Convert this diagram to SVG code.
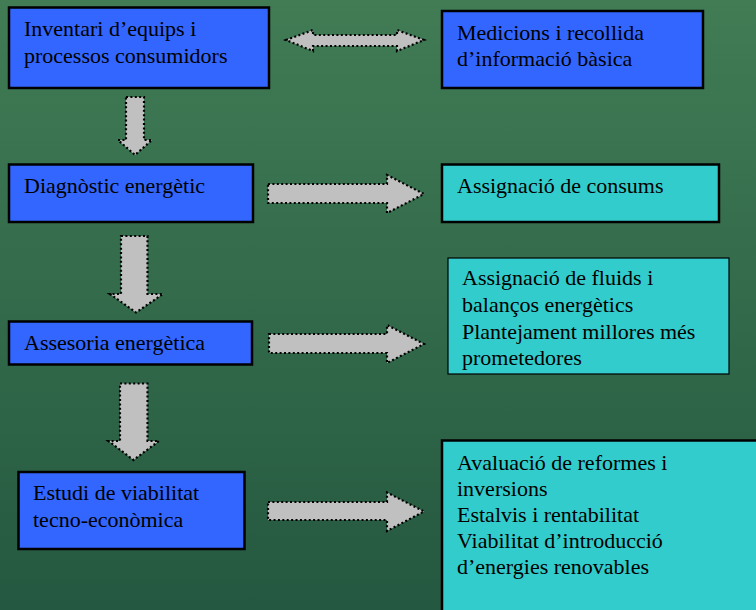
<svg xmlns="http://www.w3.org/2000/svg" width="756" height="610" viewBox="0 0 756 610">
  <defs>
    <linearGradient id="bg" x1="0" y1="0" x2="0" y2="1">
      <stop offset="0" stop-color="#417c55"/>
      <stop offset="1" stop-color="#245840"/>
    </linearGradient>
  </defs>
  <style>
    .blue { fill: #3366ff; stroke: #000; stroke-width: 2.5; }
    .cyan { fill: #33cccc; stroke: #000; stroke-width: 2.5; }
    .thin { stroke-width: 1.2; }
    .lbl { font-family: "Liberation Serif", "Times New Roman", serif; font-size: 22px; fill: #000; }
    .arr { fill: #c0c0c0; stroke: #000; stroke-width: 2.2; stroke-dasharray: 2 2.4; stroke-linejoin: miter; }
  </style>
  <rect x="0" y="0" width="756" height="610" fill="url(#bg)"/>

  <g id="n-inventari">
    <rect class="blue" x="9" y="7.5" width="260" height="80.5"/>
    <text class="lbl" x="24" y="36">Inventari d’equips i</text>
    <text class="lbl" x="24" y="63">processos consumidors</text>
  </g>

  <g id="n-medicions">
    <rect class="blue" x="442" y="11" width="261" height="77"/>
    <text class="lbl" x="457" y="39.5">Medicions i recollida</text>
    <text class="lbl" x="457" y="66">d’informació bàsica</text>
  </g>

  <g id="n-diagnostic">
    <rect class="blue" x="9" y="164.5" width="244" height="57.5"/>
    <text class="lbl" x="24" y="193">Diagnòstic energètic</text>
  </g>

  <g id="n-consums">
    <rect class="cyan" x="442" y="164.5" width="277" height="57.5"/>
    <text class="lbl" x="457" y="193">Assignació de consums</text>
  </g>

  <g id="n-assesoria">
    <rect class="blue" x="9" y="321.5" width="243" height="43"/>
    <text class="lbl" x="24" y="350">Assesoria energètica</text>
  </g>

  <g id="n-fluids">
    <rect class="cyan thin" x="448" y="258" width="281" height="116"/>
    <text class="lbl" x="462" y="285">Assignació de fluids i</text>
    <text class="lbl" x="462" y="311.5">balanços energètics</text>
    <text class="lbl" x="462" y="338.5">Plantejament millores més</text>
    <text class="lbl" x="462" y="365">prometedores</text>
  </g>

  <g id="n-estudi">
    <rect class="blue" x="18.5" y="472" width="226" height="77"/>
    <text class="lbl" x="33" y="500">Estudi de viabilitat</text>
    <text class="lbl" x="33" y="526.5">tecno-econòmica</text>
  </g>

  <g id="n-avaluacio">
    <rect class="cyan" x="442" y="440.5" width="320" height="180"/>
    <text class="lbl" x="457" y="469.5">Avaluació de reformes i</text>
    <text class="lbl" x="457" y="495.5">inversions</text>
    <text class="lbl" x="457" y="522">Estalvis i rentabilitat</text>
    <text class="lbl" x="457" y="548">Viabilitat d’introducció</text>
    <text class="lbl" x="457" y="574">d’energies renovables</text>
  </g>

  <g id="connectors">
    <polygon class="arr" points="286,40 313,30 313,35 397,35 397,30 424,40 397,51 397,46 313,46 313,51"/>
    <polygon class="arr" points="126,97 144,97 144,140 152,140 135,155 118,140 126,140"/>
    <polygon class="arr" points="268,184 387,184 387,175 424,194 387,213 387,203 268,203"/>
    <polygon class="arr" points="121,236 147.5,236 147.5,294 163,294 136,312.5 110,294 121,294"/>
    <polygon class="arr" points="269,334 387,334 387,325 424,344 387,363 387,353 269,353"/>
    <polygon class="arr" points="120,383.5 147.5,383.5 147.5,441 159,441 133.5,460 108.5,441 120,441"/>
    <polygon class="arr" points="268,502 387,502 387,492.5 424,511.5 387,531 387,520 268,520"/>
  </g>
</svg>
